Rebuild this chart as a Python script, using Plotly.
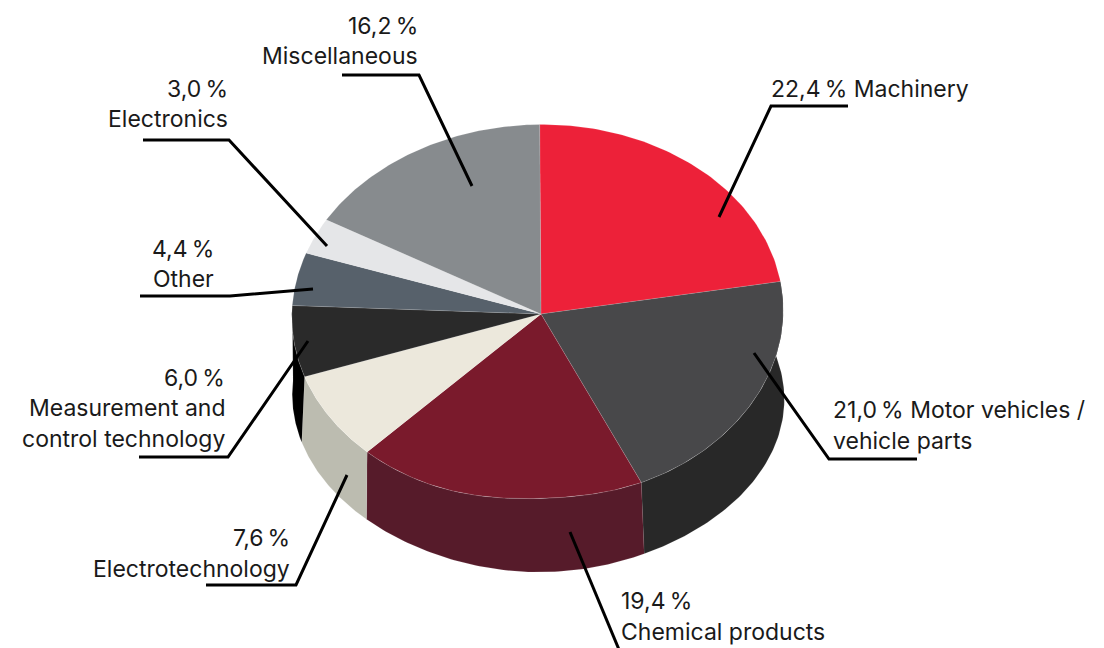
import numpy as np
import plotly.graph_objects as go

labels = ["Machinery", "Motor vehicles / vehicle parts", "Chemical products", "Electrotechnology",
          "Measurement and control technology", "Other", "Electronics", "Miscellaneous"]
shares = [22.4, 21.0, 19.4, 7.6, 6.0, 4.4, 3.0, 16.2]
top_colors = ["#ed2139", "#48484a", "#7a1a2c", "#ece8dc", "#2a2a2a", "#57616b", "#e5e6e8", "#878b8e"]
wall_colors = [None, "#282828", "#561b2a", "#bcbcb0", "#000000", None, None, None]

# Perspective projection of the pie's top and bottom discs onto the page (pixels)
TOP = [256.1082366, -12.7293936, 542.3775563, 0.7507263, -194.7228507, 316.9287925, 0.0194597, -0.0186264]
BOT = [219.6752804, -9.621051, 524.4430977, -27.1765239, -164.2272485, 394.7386927, -0.0413782, 0.0179138]
APEX = (541, 314)

FONT = "Inter"
SIZE = 23

text_lines = [
    ("16,2\u2009%", 419, 26, "right"), ("Miscellaneous", 419, 56, "right"),
    ("3,0\u2009%", 229, 89, "right"), ("Electronics", 229, 119, "right"),
    ("4,4\u2009%", 215, 249, "right"), ("Other", 215, 279, "right"),
    ("6,0\u2009%", 226, 378, "right"), ("Measurement and", 226, 408, "right"), ("control technology", 226, 439, "right"),
    ("7,6\u2009%", 291, 538, "right"), ("Electrotechnology", 291, 569, "right"),
    ("19,4\u2009%", 620, 601, "left"), ("Chemical products", 620, 632, "left"),
    ("21,0\u2009% Motor vehicles /", 832, 410, "left"), ("vehicle parts", 832, 441, "left"),
    ("22,4\u2009% Machinery", 770, 89, "left"),
]
leaders = [
    ([848, 771, 719], [106, 106, 217]),
    ([917, 829, 754], [459, 459, 353]),
    ([570, 620], [532, 652]),
    ([206, 296, 347], [585, 585, 475]),
    ([139, 228, 308], [457, 457, 341]),
    ([140, 230, 313], [296, 296, 289]),
    ([143, 229, 327], [140, 140, 246]),
    ([342, 419, 472], [75, 75, 186]),
]


def proj(h, t):
    X, Y = np.sin(np.radians(t)), np.cos(np.radians(t))
    w = h[6] * X + h[7] * Y + 1
    return (h[0] * X + h[1] * Y + h[2]) / w, (h[3] * X + h[4] * Y + h[5]) / w


def top_rim(t):
    x, y = proj(TOP, t)
    return x, y - 4 * np.clip(-np.cos(np.radians(t)), 0, 1) ** 16


def bottom_rim(t):
    t2 = t + np.interp(t, [226, 253.4], [0, 3.5])
    x, y = proj(BOT, t2)
    s = np.radians(t2)
    return x + 7 * np.clip(np.sin(s), 0, 1) ** 2, y + 3 * np.clip(-np.cos(s), 0, 1) ** 8


EDGE = dict(color="rgba(255,255,255,0.25)", width=0.5)
cum = np.cumsum([0] + shares) * 3.6
fig = go.Figure()
for i in range(len(shares)):
    if wall_colors[i]:
        t = np.linspace(cum[i], cum[i + 1], 80)
        x1, y1 = top_rim(t)
        x2, y2 = bottom_rim(t[::-1])
        fig.add_trace(go.Scatter(x=np.r_[x1, x2], y=np.r_[y1, y2], fill="toself", fillcolor=wall_colors[i],
                                 mode="lines", line=EDGE, hoverinfo="skip", name=labels[i]))
for i in range(len(shares)):
    t = np.linspace(cum[i], cum[i + 1], 80)
    x1, y1 = top_rim(t)
    fig.add_trace(go.Scatter(x=np.r_[APEX[0], x1, APEX[0]], y=np.r_[APEX[1], y1, APEX[1]], fill="toself",
                             fillcolor=top_colors[i], mode="lines", line=EDGE, hoverinfo="skip", name=labels[i]))
for lx, ly in leaders:
    fig.add_trace(go.Scatter(x=lx, y=ly, mode="lines", line=dict(color="#000000", width=3), hoverinfo="skip"))

for txt, x, y, al in text_lines:
    fig.add_annotation(x=x, y=y, text=txt, showarrow=False, xanchor=al, yanchor="middle", xref="x", yref="y",
                       borderpad=0, font=dict(family=FONT, size=SIZE, color="#1a1a1a"))

fig.update_layout(width=1104, height=648, margin=dict(l=0, r=0, t=0, b=0), showlegend=False,
                  plot_bgcolor="white", paper_bgcolor="white",
                  xaxis=dict(range=[0, 1104], visible=False, fixedrange=True),
                  yaxis=dict(range=[648, 0], visible=False, fixedrange=True))
fig.write_html("out.html", config={"displayModeBar": False}, post_script="document.body.style.margin='0';")
